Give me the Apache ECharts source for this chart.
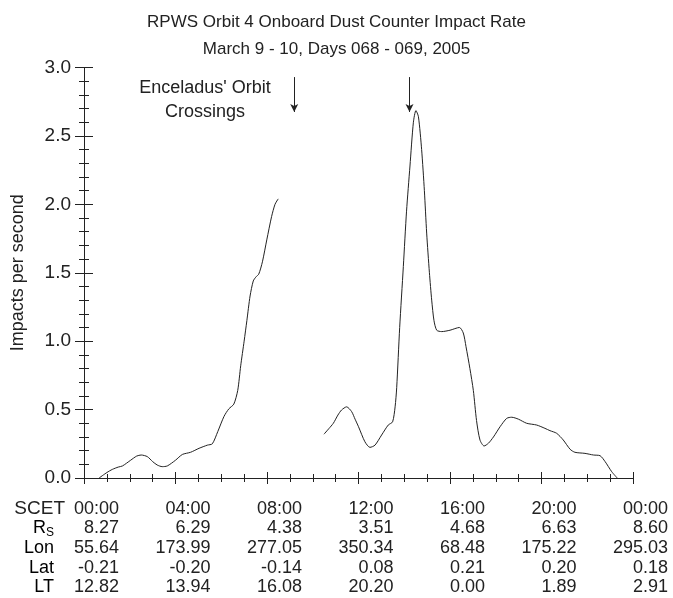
<!DOCTYPE html>
<html>
<head>
<meta charset="utf-8">
<title>RPWS Orbit 4 Onboard Dust Counter Impact Rate</title>
<script src="https://cdn.jsdelivr.net/npm/echarts@6/dist/echarts.min.js"></script>
<style>
  html, body { margin: 0; padding: 0; background: #fff; }
  #chart { width: 673px; height: 598px; }
</style>
</head>
<body>
<div id="chart"></div>
<script>
// Impact rate, inbound pass (hours since 00:00 SCET, impacts per second)
const inboundTimes = [0.66, 1.0, 1.24, 1.5, 1.68, 2.04, 2.3, 2.5, 2.77, 3.0, 3.2, 3.42, 3.64, 4.0, 4.3, 4.66, 5.03, 5.39, 5.61,
  5.85, 6.12, 6.33, 6.55, 6.72, 6.85, 7.0, 7.12, 7.26, 7.4, 7.52, 7.64, 7.8, 7.99, 8.2, 8.35, 8.49];
const inboundRates = [0, 0.04, 0.063, 0.08, 0.088, 0.13, 0.16, 0.168, 0.156, 0.12, 0.095, 0.083, 0.088, 0.13, 0.172, 0.188, 0.217, 0.24, 0.25,
  0.34, 0.45, 0.505, 0.54, 0.64, 0.82, 1.0, 1.15, 1.33, 1.44, 1.47, 1.49, 1.58, 1.74, 1.91, 2.0, 2.04];

// Impact rate, outbound pass
const outboundTimes = [10.49, 10.7, 10.9, 11.1, 11.26, 11.48, 11.7, 11.85, 12.0, 12.28, 12.5, 12.72, 13.01, 13.3, 13.49, 13.6, 13.67,
  13.8, 13.96, 14.1, 14.25, 14.4, 14.51, 14.62, 14.76, 14.88, 14.98, 15.1, 15.2, 15.3, 15.42, 15.64, 16.0, 16.41, 16.58, 16.7,
  16.87, 17.02, 17.16, 17.31, 17.49, 17.68, 17.9, 18.19, 18.48, 18.7, 18.99, 19.35, 19.79, 20.15, 20.37, 20.66, 20.95, 21.25,
  21.46, 21.9, 22.27, 22.56, 22.78, 23.07, 23.31];
const outboundRates = [0.32, 0.36, 0.40, 0.46, 0.497, 0.52, 0.485, 0.43, 0.375, 0.265, 0.224, 0.24, 0.314, 0.387, 0.41, 0.52, 0.66,
  1.1, 1.545, 1.95, 2.28, 2.6, 2.685, 2.64, 2.40, 2.1, 1.79, 1.5, 1.30, 1.15, 1.08, 1.07, 1.08, 1.10, 1.06, 0.96,
  0.8, 0.64, 0.42, 0.278, 0.234, 0.254, 0.30, 0.375, 0.436, 0.444, 0.43, 0.40, 0.387, 0.363, 0.346, 0.327, 0.278, 0.21,
  0.188, 0.18, 0.168, 0.163, 0.12, 0.046, 0];

// Enceladus orbit crossing times (hours) and arrow extent (impacts per second)
const crossingTimes = [9.19, 14.23];
const arrowTop = 2.93;
const arrowTip = 2.675;

// Ephemeris table under the time axis, one column per 4-hour tick
const scetLabels = ['00:00', '04:00', '08:00', '12:00', '16:00', '20:00', '00:00'];
const rsValues  = ['8.27', '6.29', '4.38', '3.51', '4.68', '6.63', '8.60'];
const lonValues = ['55.64', '173.99', '277.05', '350.34', '68.48', '175.22', '295.03'];
const latValues = ['-0.21', '-0.20', '-0.14', '0.08', '0.21', '0.20', '0.18'];
const ltValues  = ['12.82', '13.94', '16.08', '20.20', '0.00', '1.89', '2.91'];

const yTickLabels = ['0.0', '0.5', '1.0', '1.5', '2.0', '2.5', '3.0'];

const FONT = '"Liberation Sans", Arial, Helvetica, sans-serif';
const INK = '#222';
const ROW_H = 19.6;
const TABLE_TOP = 499;

const pair = (xs, ys) => xs.map((x, i) => [x, ys[i]]);

const chart = echarts.init(document.getElementById('chart'), null, { renderer: 'canvas' });

const cell = { width: 70, align: 'right', fontSize: 18, lineHeight: ROW_H, color: INK, fontFamily: FONT };

const commonX = {
  type: 'value', min: 0, max: 24, interval: 4,
  axisLine: { show: true, lineStyle: { color: INK, width: 1 } },
  axisTick: { show: true, inside: false, length: 6, lineStyle: { color: INK } },
  minorTick: { show: true, splitNumber: 4, length: 4, lineStyle: { color: INK } },
  splitLine: { show: false }
};
const commonY = {
  type: 'value', min: 0, max: 3, interval: 0.5,
  axisLine: { show: true, lineStyle: { color: INK, width: 1 } },
  axisTick: { show: true, inside: false, length: 9, lineStyle: { color: INK } },
  minorTick: { show: true, splitNumber: 5, length: 5, lineStyle: { color: INK } },
  splitLine: { show: false }
};

chart.setOption({
  animation: false,
  backgroundColor: '#fff',
  title: {
    text: 'RPWS Orbit 4 Onboard Dust Counter Impact Rate\nMarch 9 - 10, Days 068 - 069, 2005',
    left: 'center', top: 4,
    textStyle: { fontFamily: FONT, fontSize: 17, fontWeight: 'normal', color: INK, lineHeight: 27 }
  },
  grid: { left: 84, right: 40, top: 67.5, bottom: 120, containLabel: false },
  xAxis: [
    Object.assign({}, commonX, {
      position: 'bottom',
      axisLabel: {
        show: true, margin: 21, align: 'center', verticalAlign: 'top',
        formatter: function (v) {
          const i = Math.round(v / 4);
          return ['{c|' + scetLabels[i] + '}', '{c|' + rsValues[i] + '}', '{c|' + lonValues[i] + '}',
            '{c|' + latValues[i] + '}', '{c|' + ltValues[i] + '}'].join('\n');
        },
        rich: { c: cell }
      }
    }),
    Object.assign({}, commonX, { position: 'top', axisLabel: { show: false } })
  ],
  yAxis: [
    Object.assign({}, commonY, {
      position: 'left',
      name: 'Impacts per second', nameLocation: 'middle', nameGap: 57, nameRotate: 90,
      nameTextStyle: { fontFamily: FONT, fontSize: 18, color: INK },
      axisLabel: {
        show: true, margin: 13, fontFamily: FONT, fontSize: 19, color: INK,
        formatter: function (v) { return yTickLabels[Math.round(v / 0.5)]; }
      }
    }),
    Object.assign({}, commonY, { position: 'right', axisLabel: { show: false } })
  ],
  graphic: [
    {
      // first row header of the ephemeris table
      type: 'text', silent: true,
      x: 65, y: TABLE_TOP,
      style: {
        text: 'SCET', align: 'right', verticalAlign: 'top',
        fontSize: 19, lineHeight: ROW_H, fill: INK, fontFamily: FONT
      }
    },
    {
      // remaining row headers
      type: 'text', silent: true,
      x: 54, y: TABLE_TOP + ROW_H,
      style: {
        text: '{h|R}{s|S}\n{h|Lon}\n{h|Lat}\n{h|LT}',
        align: 'right', verticalAlign: 'top',
        rich: {
          h: { fontSize: 18, lineHeight: ROW_H, color: INK, fontFamily: FONT },
          s: { fontSize: 12, lineHeight: ROW_H, color: INK, fontFamily: FONT, padding: [9, 0, 0, 0] }
        }
      }
    },
    {
      type: 'text', silent: true,
      x: 205, y: 100,
      style: {
        text: "Enceladus' Orbit\nCrossings",
        align: 'center', verticalAlign: 'middle',
        fontSize: 18, lineHeight: 24, fill: INK, fontFamily: FONT
      }
    }
  ],
  series: [
    {
      type: 'line', name: 'inbound', xAxisIndex: 0, yAxisIndex: 0,
      data: pair(inboundTimes, inboundRates),
      smooth: 0.25, showSymbol: false, symbol: 'none',
      lineStyle: { color: INK, width: 1 },
      silent: true
    },
    {
      type: 'line', name: 'outbound', xAxisIndex: 0, yAxisIndex: 0,
      data: pair(outboundTimes, outboundRates),
      smooth: 0.25, showSymbol: false, symbol: 'none',
      lineStyle: { color: INK, width: 1 },
      silent: true,
      markLine: {
        silent: true, symbol: ['none', 'arrow'], symbolSize: [6, 8],
        label: { show: false },
        lineStyle: { color: INK, width: 1, type: 'solid' },
        data: crossingTimes.map(t => [{ coord: [t, arrowTop] }, { coord: [t, arrowTip] }])
      }
    }
  ]
});
</script>
</body>
</html>
